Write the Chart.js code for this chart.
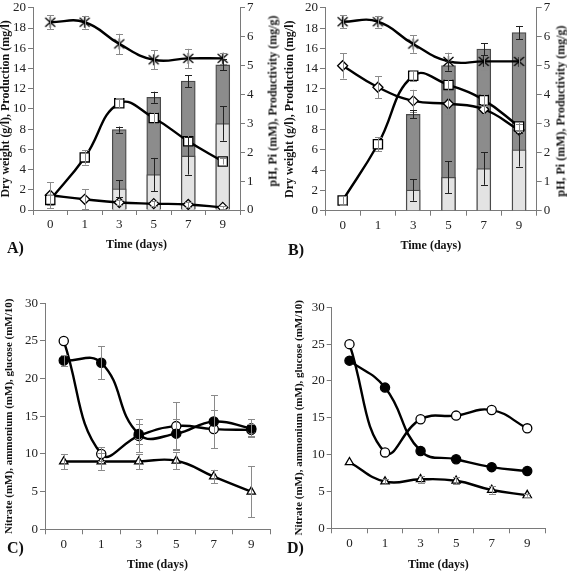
<!DOCTYPE html>
<html>
<head>
<meta charset="utf-8">
<script src="https://cdn.jsdelivr.net/npm/chart.js"></script>
<style>
  body { margin: 0; background: #fff; width: 567px; height: 571px; position: relative; overflow: hidden; font-family: 'Liberation Serif', 'Times New Roman', serif; color: #111; }
  canvas { position: absolute; }
  .panel { position: absolute; font-weight: bold; font-size: 16px; line-height: 16px; }
  .rtitle { position: absolute; font-weight: bold; font-size: 12px; white-space: nowrap; transform: translate(-50%, -50%) rotate(-90deg); }
</style>
</head>
<body>
<canvas id="chartA" width="283" height="251" style="left:0;top:0"></canvas>
<canvas id="chartB" width="287" height="252" style="left:280px;top:0"></canvas>
<canvas id="chartC" width="283" height="281" style="left:0;top:290px"></canvas>
<canvas id="chartD" width="287" height="281" style="left:280px;top:290px"></canvas>

<div class="rtitle" style="left:273px;top:101px">pH, Pi (mM), Productivity (mg/g)</div>
<div class="rtitle" style="left:561px;top:111px">pH, Pi (mM), Productivity (mg/g)</div>
<div class="panel" style="left:7px;top:240px">A)</div>
<div class="panel" style="left:288px;top:242px">B)</div>
<div class="panel" style="left:7px;top:540px">C)</div>
<div class="panel" style="left:287px;top:540px">D)</div>

<script>
// time points (days)
var days = ['0', '1', '3', '5', '7', '9'];

// panel A
var phA = [6.5, 6.5, 5.75, 5.2, 5.25, 5.25];
var phAErr = [0.24, 0.22, 0.35, 0.33, 0.33, 0.2];
var dryA = [1.0, 5.2, 10.55, 9.1, 6.8, 4.8];
var dryAErr = [0.5, 0.7, 0.5, 0.6, 0.6, 0.3];
var piA = [0.51, 0.37, 0.26, 0.22, 0.19, 0.09];
var piAErr = [0.45, 0.35, 0.1, 0.08, 0.1, 0.04];
var prodA = [null, null, 7.95, 11.15, 12.75, 14.35];
var prodAErr = [null, null, 0.3, 0.55, 0.6, 0.55];
var prodLowA = [null, null, 2.1, 3.5, 5.35, 8.55];
var prodLowAErr = [null, null, 0.85, 1.65, 1.85, 1.7];

// panel B
var phB = [6.52, 6.52, 5.75, 5.15, 5.15, 5.15];
var phBErr = [0.22, 0.2, 0.3, 0.3, 0.3, 0.2];
var dryB = [1.0, 6.55, 13.3, 12.4, 10.9, 8.3];
var dryBErr = [0.4, 0.7, 0.5, 0.6, 0.6, 0.4];
var piB = [5.0, 4.26, 3.79, 3.69, 3.5, 2.78];
var piBErr = [0.44, 0.38, 0.38, 0.35, 0.17, 0.2];
var prodB = [null, null, 9.5, 14.3, 15.93, 17.56];
var prodBErr = [null, null, 0.4, 0.5, 0.6, 0.65];
var prodLowB = [null, null, 2.03, 3.3, 4.15, 6.0];
var prodLowBErr = [null, null, 1.05, 1.6, 1.6, 1.65];

// panel C
var filledC = [22.4, 22.1, 12.65, 12.7, 14.3, 13.4];
var filledCErr = [0.7, 2.2, 1.3, 2.0, 3.5, 1.2];
var openC = [25.0, 10.0, 12.4, 13.7, 13.3, 13.2];
var openCErr = [0, 0.9, 2.2, 3.2, 2.5, 0.8];
var triC = [9.0, 9.0, 9.0, 9.1, 7.0, 5.0];
var triCErr = [1.0, 1.1, 1.0, 1.1, 0.9, 3.4];

// panel D
var filledD = [22.76, 19.1, 10.5, 9.37, 8.3, 7.78];
var openD = [25.0, 10.3, 14.8, 15.3, 16.05, 13.57];
var triD = [8.96, 6.35, 6.65, 6.45, 5.2, 4.5];
var triDErr = [0, 0.3, 0.5, 0.5, 0.5, 0.2];

var serif = "'Liberation Serif', 'Times New Roman', serif";
var axisGray = '#7a7a7a';

// six-armed asterisk marker used for pH
function asterisk() {
  var c = document.createElement('canvas');
  c.width = 13; c.height = 13;
  var g = c.getContext('2d');
  g.strokeStyle = '#000';
  g.lineWidth = 1.3;
  g.beginPath();
  g.moveTo(6.5, 1); g.lineTo(6.5, 12);
  g.moveTo(1.5, 2); g.lineTo(11.5, 11);
  g.moveTo(11.5, 2); g.lineTo(1.5, 11);
  g.stroke();
  return c;
}
var starMark = asterisk();

// draws vertical error bars with caps
var errorBars = {
  id: 'errorBars',
  afterDatasetsDraw: function(chart) {
    var ctx = chart.ctx;
    chart.data.datasets.forEach(function(ds, i) {
      if (!ds.errors) return;
      var meta = chart.getDatasetMeta(i);
      var scale = chart.scales[meta.yAxisID];
      ctx.save();
      ctx.strokeStyle = ds.errorColor || '#888';
      ctx.lineWidth = 1;
      meta.data.forEach(function(el, j) {
        var v = ds.data[j], e = ds.errors[j];
        if (v == null || !e) return;
        var top = scale.getPixelForValue(v + e);
        var bot = scale.getPixelForValue(v - e);
        var x = Math.round(el.x) + 0.5;
        ctx.beginPath();
        ctx.moveTo(x, top); ctx.lineTo(x, bot);
        ctx.moveTo(x - 3.5, Math.round(top) + 0.5); ctx.lineTo(x + 3.5, Math.round(top) + 0.5);
        ctx.moveTo(x - 3.5, Math.round(bot) + 0.5); ctx.lineTo(x + 3.5, Math.round(bot) + 0.5);
        ctx.stroke();
      });
      ctx.restore();
    });
  }
};

function fit(size) {
  return function(s) {
    if (s.isHorizontal()) s.height = size; else s.width = size;
    s.paddingTop = 0; s.paddingBottom = 0; s.paddingLeft = 0; s.paddingRight = 0;
  };
}

var radius = { star: 6, rect: 6.5, rectRot: 5, circle: 4.6, triangle: 4.8 };

function line(data, errors, style, axis, fill) {
  return {
    type: 'line', data: data, errors: errors, yAxisID: axis,
    borderColor: '#000', borderWidth: 2.4, tension: 0.45,
    pointStyle: style === 'star' ? starMark : style, pointRadius: radius[style],
    pointBackgroundColor: fill || '#fff', pointBorderColor: '#000', pointBorderWidth: 1.3,
    errorColor: '#8a8a8a', order: 0
  };
}

function xAxis(height) {
  return {
    type: 'category', offset: true,
    grid: { offset: true, drawOnChartArea: false, tickLength: 5, color: axisGray },
    border: { color: axisGray },
    ticks: { font: { family: serif, size: 13 }, color: '#222', padding: 2, maxRotation: 0 },
    title: { display: true, text: 'Time (days)', font: { family: serif, size: 12, weight: 'bold', lineHeight: 1 }, color: '#111', padding: 0 },
    afterFit: fit(height)
  };
}

function yAxis(pos, max, step, width, title, titlePad, fontSize) {
  var ax = {
    position: pos, min: 0, max: max,
    grid: { drawOnChartArea: false, tickLength: 5, color: axisGray },
    border: { color: axisGray },
    ticks: { stepSize: step, font: { family: serif, size: 13 }, color: '#222', padding: 2 },
    afterFit: fit(width)
  };
  if (title) {
    ax.title = { display: true, text: title, font: { family: serif, size: fontSize || 12, weight: 'bold', lineHeight: 1 }, color: '#111', padding: { top: titlePad, bottom: 0 } };
  }
  return ax;
}

var baseOpts = {
  responsive: false, animation: false, events: [],
  plugins: { legend: { display: false }, tooltip: { enabled: false } }
};

function topChart(id, ph, phErr, dry, dryErr, pi, piErr, prod, prodErr, low, lowErr, g) {
  new Chart(document.getElementById(id), {
    type: 'bar',
    data: {
      labels: days,
      datasets: [
        line(ph, phErr, 'star', 'y1'),
        line(dry, dryErr, 'rect', 'y'),
        line(pi, piErr, 'rectRot', 'y1'),
        { type: 'bar', data: low, errors: lowErr, yAxisID: 'y', grouped: false, barThickness: 14,
          backgroundColor: '#e3e3e3', borderColor: '#4a4a4a', borderWidth: 1.3, errorColor: '#222', order: 5 },
        { type: 'bar', data: prod, errors: prodErr, yAxisID: 'y', grouped: false, barThickness: 14,
          backgroundColor: '#8c8c8c', borderColor: '#4a4a4a', borderWidth: 1.3, errorColor: '#222', order: 6 }
      ]
    },
    options: Object.assign({}, baseOpts, {
      layout: { padding: { top: g.top, left: 0, right: 0, bottom: 0 } },
      scales: {
        x: xAxis(g.xh),
        y: yAxis('left', 20, 2, g.yw, 'Dry weight (g/l), Production (mg/l)', g.tp),
        y1: yAxis('right', 7, 1, g.y1w)
      }
    }),
    plugins: [errorBars]
  });
}

function bottomChart(id, filled, filledErr, open, openErr, tri, triErr, g) {
  new Chart(document.getElementById(id), {
    type: 'line',
    data: {
      labels: days,
      datasets: [
        line(filled, filledErr, 'circle', 'y', '#000'),
        line(open, openErr, 'circle', 'y', '#fff'),
        line(tri, triErr, 'triangle', 'y', '#fff')
      ]
    },
    options: Object.assign({}, baseOpts, {
      layout: { padding: { top: g.top, left: 0, right: g.right, bottom: 0 } },
      scales: {
        x: xAxis(g.xh),
        y: yAxis('left', 30, 5, g.yw, 'Nitrate (mM), ammonium (mM), glucose (mM/10)', g.tp, 11)
      }
    }),
    plugins: [errorBars]
  });
}

topChart('chartA', phA, phAErr, dryA, dryAErr, piA, piAErr, prodA, prodAErr, prodLowA, prodLowAErr,
  { top: 5, xh: 41, yw: 33, y1w: 43, tp: 0 });
topChart('chartB', phB, phBErr, dryB, dryBErr, piB, piBErr, prodB, prodBErr, prodLowB, prodLowBErr,
  { top: 6, xh: 41.3, yw: 45, y1w: 30.3, tp: 4 });
bottomChart('chartC', filledC, filledCErr, openC, openCErr, triC, triCErr,
  { top: 13.3, right: 13, xh: 41.7, yw: 45, tp: 4 });
bottomChart('chartD', filledD, null, openD, null, triD, triDErr,
  { top: 17.3, right: 22, xh: 42.7, yw: 51.7, tp: 14 });
</script>
</body>
</html>
